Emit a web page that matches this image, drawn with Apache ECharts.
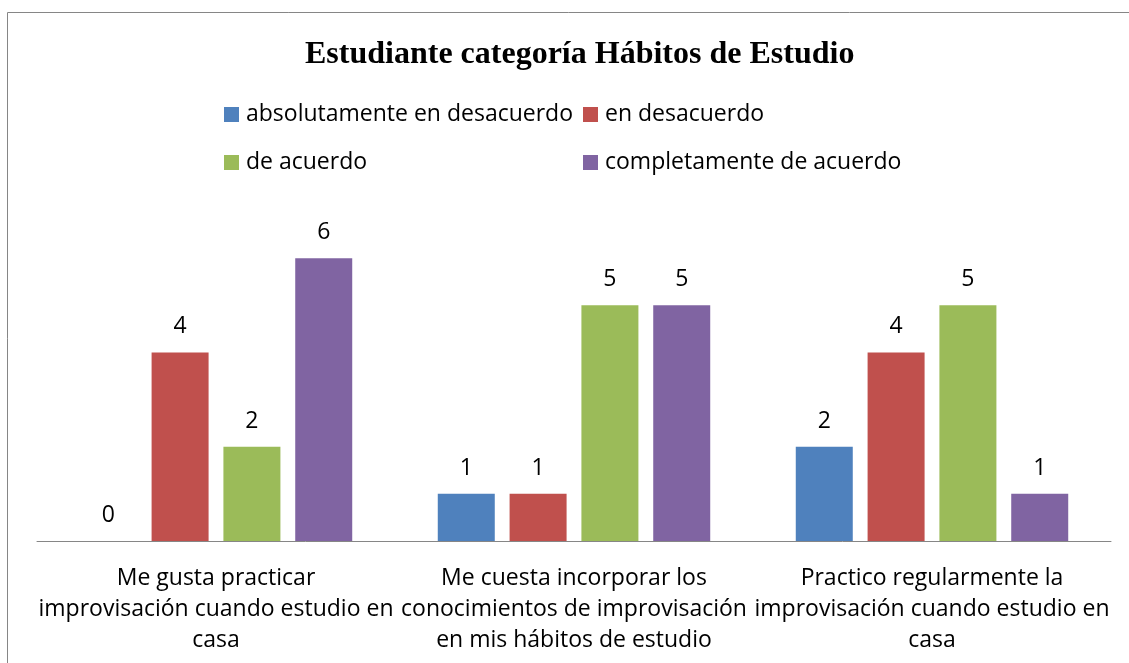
<!DOCTYPE html>
<html>
<head>
<meta charset="utf-8">
<script src="https://cdn.jsdelivr.net/npm/echarts@6/dist/echarts.min.js"></script>
<style>
  html, body { margin: 0; padding: 0; background: #fff; }
  #chart { width: 1129px; height: 663px; }
</style>
</head>
<body>
<div id="chart"></div>
<script>
const categories = [
  'Me gusta practicar\nimprovisación cuando estudio en\ncasa',
  'Me cuesta incorporar los\nconocimientos de improvisación\nen mis hábitos de estudio',
  'Practico regularmente la\nimprovisación cuando estudio en\ncasa'
]
const seriesNames = ['absolutamente en desacuerdo', 'en desacuerdo', 'de acuerdo', 'completamente de acuerdo']
const absDesacuerdo = [0, 1, 2]
const desacuerdo = [4, 1, 4]
const deAcuerdo = [2, 5, 5]
const completoAcuerdo = [6, 5, 1]
const colors = ['#4F81BD', '#C0504D', '#9BBB59', '#8064A2']

const font = 'Open Sans'
const chart = echarts.init(document.getElementById('chart'))

// una leyenda por elemento para alinear las columnas como en el original
const legendPos = [[224, 103], [583, 103], [224, 151], [583, 151]]
const legends = seriesNames.map((n, i) => ({
  data: [n],
  left: legendPos[i][0],
  top: legendPos[i][1],
  itemWidth: 15,
  itemHeight: 15,
  itemGap: 0,
  icon: 'rect',
  padding: 0,
  selectedMode: false,
  textStyle: { fontFamily: font, fontSize: 23, color: '#000', padding: [0, 0, 0, 2] }
}))

const values = [absDesacuerdo, desacuerdo, deAcuerdo, completoAcuerdo]

chart.setOption({
  animation: false,
  color: colors,
  title: {
    text: 'Estudiante categoría Hábitos de Estudio',
    left: 300,
    top: 34,
    textStyle: { fontFamily: 'Liberation Serif', fontWeight: 'bold', fontSize: 32, color: '#000' }
  },
  legend: legends,
  grid: { left: 37, right: 18, top: 211, bottom: 122 },
  xAxis: {
    type: 'category',
    data: categories,
    axisLine: { lineStyle: { color: '#868686', width: 1 } },
    axisTick: { show: false },
    axisLabel: {
      interval: 0,
      margin: 22,
      fontFamily: font,
      fontSize: 23,
      lineHeight: 31,
      color: '#000'
    }
  },
  yAxis: {
    type: 'value',
    min: 0,
    max: 7,
    show: false
  },
  graphic: [{
    type: 'rect',
    shape: { x: 7.5, y: 12.5, width: 1300, height: 800 },
    style: { fill: 'none', stroke: '#868686', lineWidth: 1 },
    silent: true
  }],
  series: seriesNames.map((n, i) => ({
    name: n,
    type: 'bar',
    data: values[i],
    barWidth: 57,
    barGap: '26%',
    label: {
      show: true,
      position: 'top',
      distance: 14,
      fontFamily: font,
      fontSize: 23,
      color: '#000'
    }
  }))
})
</script>
</body>
</html>
